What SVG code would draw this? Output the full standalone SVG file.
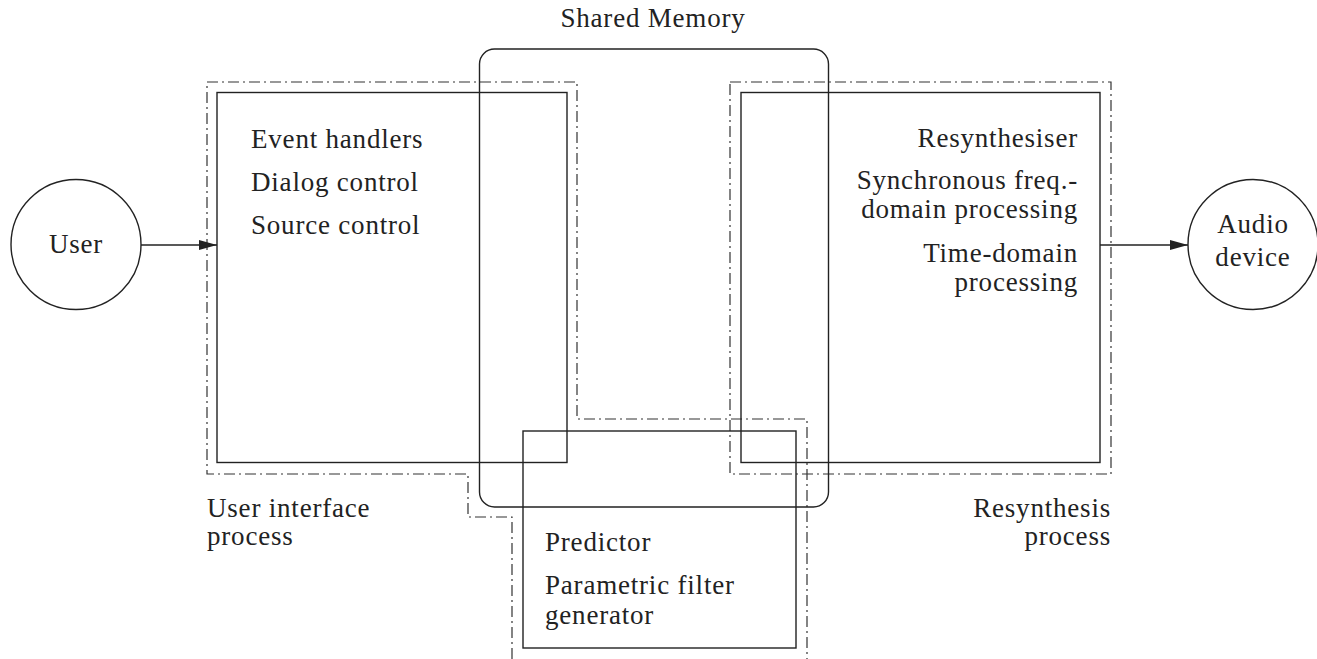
<svg xmlns="http://www.w3.org/2000/svg" width="1317" height="659" viewBox="0 0 1317 659">
<style>
  .box { fill: none; stroke: #222; stroke-width: 1.4; }
  .proc { fill: none; stroke: #333; stroke-width: 1.2; stroke-dasharray: 11 4 2 4; }
  .conn { fill: none; stroke: #222; stroke-width: 1.4; }
  text { font-family: "Liberation Serif", "Times New Roman", serif; font-size: 27px; fill: #222; letter-spacing: 0.8px; }
  .mid { text-anchor: middle; }
  .end { text-anchor: end; }
</style>
<defs>
  <marker id="arrow" viewBox="0 0 18 10" refX="18" refY="5" markerWidth="18" markerHeight="10" markerUnits="userSpaceOnUse" orient="auto">
    <path d="M0,0 L18,5 L0,10 Z" fill="#222"/>
  </marker>
</defs>
<rect width="1317" height="659" fill="#fff"/>

<g id="ui-process">
  <path class="proc" d="M512,659 V517 H468 V474 H207 V82 H577 V419 H807 V659"/>
  <text x="207" y="517">User interface</text>
  <text x="207" y="545">process</text>
</g>

<g id="resynthesis-process">
  <rect class="proc" x="730" y="82" width="381" height="392"/>
  <text class="end" x="1111" y="517">Resynthesis</text>
  <text class="end" x="1111" y="545">process</text>
</g>

<g id="shared-memory">
  <rect class="box" x="479.5" y="49" width="349" height="458" rx="15" ry="15"/>
  <text class="mid" x="653" y="27">Shared Memory</text>
</g>

<g id="ui-box">
  <rect class="box" x="217" y="92.5" width="350" height="370"/>
  <text x="251" y="148">Event handlers</text>
  <text x="251" y="191">Dialog control</text>
  <text x="251" y="234">Source control</text>
</g>

<g id="resynth-box">
  <rect class="box" x="741" y="92.5" width="359" height="370"/>
  <text class="end" x="1078" y="147">Resynthesiser</text>
  <text class="end" x="1078" y="189">Synchronous freq.-</text>
  <text class="end" x="1078" y="218">domain processing</text>
  <text class="end" x="1078" y="262">Time-domain</text>
  <text class="end" x="1078" y="291">processing</text>
</g>

<g id="predictor">
  <rect class="box" x="523" y="431" width="273" height="217"/>
  <text x="545" y="551">Predictor</text>
  <text x="545" y="594">Parametric filter</text>
  <text x="545" y="624">generator</text>
</g>

<g id="user">
  <circle class="box" cx="76" cy="244.5" r="65"/>
  <text class="mid" x="76" y="253">User</text>
</g>

<g id="audio-device">
  <circle class="box" cx="1253" cy="244.5" r="65"/>
  <text class="mid" x="1253" y="233">Audio</text>
  <text class="mid" x="1253" y="266">device</text>
</g>

<g id="connectors">
  <line class="conn" x1="141" y1="245" x2="217" y2="245" marker-end="url(#arrow)"/>
  <line class="conn" x1="1100" y1="245" x2="1188" y2="245" marker-end="url(#arrow)"/>
</g>
</svg>
